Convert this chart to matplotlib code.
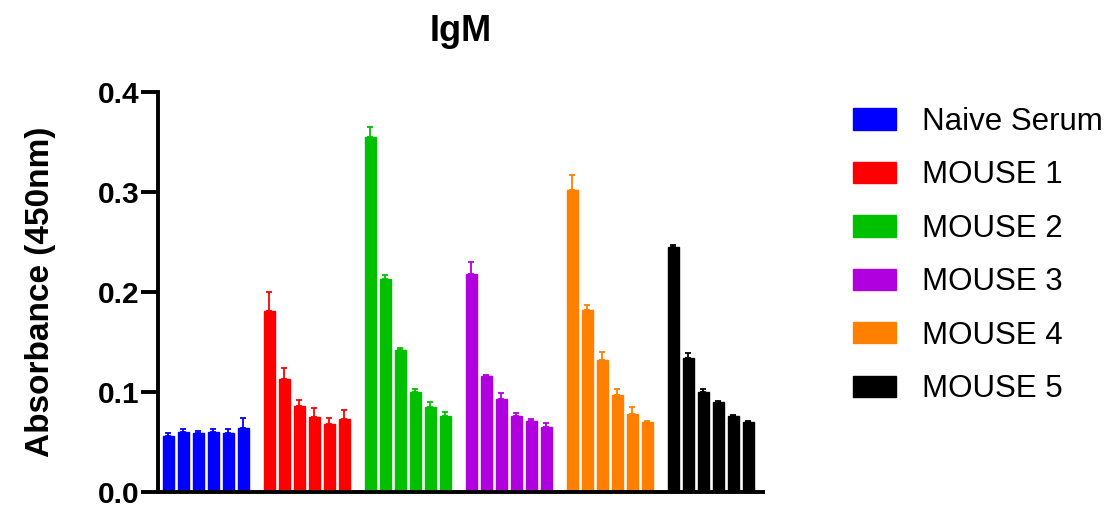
import matplotlib
matplotlib.use("Agg")
import matplotlib.pyplot as plt
from matplotlib.patches import Patch
import numpy as np

plt.rcParams['font.family'] = ['Liberation Sans', 'DejaVu Sans']

# Mean absorbance per dilution step and upper error (SEM) for each group
groups = ["Naive Serum", "MOUSE 1", "MOUSE 2", "MOUSE 3", "MOUSE 4", "MOUSE 5"]
colors = ["#0000FF", "#FF0000", "#00C000", "#B000E0", "#FF8000", "#000000"]

naive_mean = [0.056, 0.060, 0.059, 0.060, 0.059, 0.064]
naive_err = [0.003, 0.003, 0.002, 0.003, 0.004, 0.010]
mouse1_mean = [0.181, 0.113, 0.086, 0.075, 0.068, 0.073]
mouse1_err = [0.019, 0.011, 0.006, 0.009, 0.006, 0.009]
mouse2_mean = [0.355, 0.213, 0.142, 0.100, 0.085, 0.076]
mouse2_err = [0.010, 0.004, 0.002, 0.003, 0.005, 0.004]
mouse3_mean = [0.218, 0.116, 0.093, 0.076, 0.071, 0.065]
mouse3_err = [0.012, 0.001, 0.006, 0.003, 0.002, 0.004]
mouse4_mean = [0.302, 0.182, 0.132, 0.097, 0.078, 0.070]
mouse4_err = [0.015, 0.005, 0.008, 0.006, 0.007, 0.001]
mouse5_mean = [0.245, 0.134, 0.100, 0.090, 0.076, 0.070]
mouse5_err = [0.002, 0.005, 0.003, 0.001, 0.001, 0.001]

means = [naive_mean, mouse1_mean, mouse2_mean, mouse3_mean, mouse4_mean, mouse5_mean]
errs = [naive_err, mouse1_err, mouse2_err, mouse3_err, mouse4_err, mouse5_err]

n_bars = 6
group_gap = 0.733
bar_width = 0.7

fig = plt.figure(figsize=(11.12, 5.08), dpi=100)
ax = fig.add_axes([158 / 1112, 1 - 492 / 508, (763 - 158) / 1112, 400 / 508])

for g, (m, e, c) in enumerate(zip(means, errs, colors)):
    x = g * (n_bars + group_gap) + np.arange(n_bars)
    ax.bar(x, m, width=bar_width, color=c, edgecolor=c, linewidth=1.0, zorder=2)
    ax.errorbar(x, m, yerr=[np.zeros(n_bars), e], fmt='none', ecolor=c,
                elinewidth=1.3, capsize=2.2, capthick=1.3, zorder=3)

last = (len(groups) - 1) * (n_bars + group_gap) + n_bars - 1
ax.set_xlim(-0.7, last + 0.97)
ax.set_ylim(0, 0.4)
ax.set_yticks([0.0, 0.1, 0.2, 0.3, 0.4])
ax.set_yticklabels(["0.0", "0.1", "0.2", "0.3", "0.4"], fontsize=21.5, fontweight='bold')
ax.set_xticks([])

for side in ("top", "right"):
    ax.spines[side].set_visible(False)
for side in ("left", "bottom"):
    ax.spines[side].set_linewidth(2.8)
ax.tick_params(axis='y', length=12, width=2.8, pad=1.5)

ax.set_ylabel("Absorbance (450nm)", fontsize=24, fontweight='bold', labelpad=30)
ax.set_title("IgM", fontsize=26, fontweight='bold', pad=37)

handles = [Patch(facecolor=c, edgecolor=c, label=lab) for c, lab in zip(colors, groups)]
fig.legend(handles=handles, loc='upper left', bbox_to_anchor=(853 / 1112, 1 - 107 / 508),
           frameon=False, fontsize=22.5, handlelength=1.38, handleheight=0.67,
           handletextpad=0.83, labelspacing=0.75, borderpad=0, borderaxespad=0)

fig.savefig("out.png", dpi=100)
